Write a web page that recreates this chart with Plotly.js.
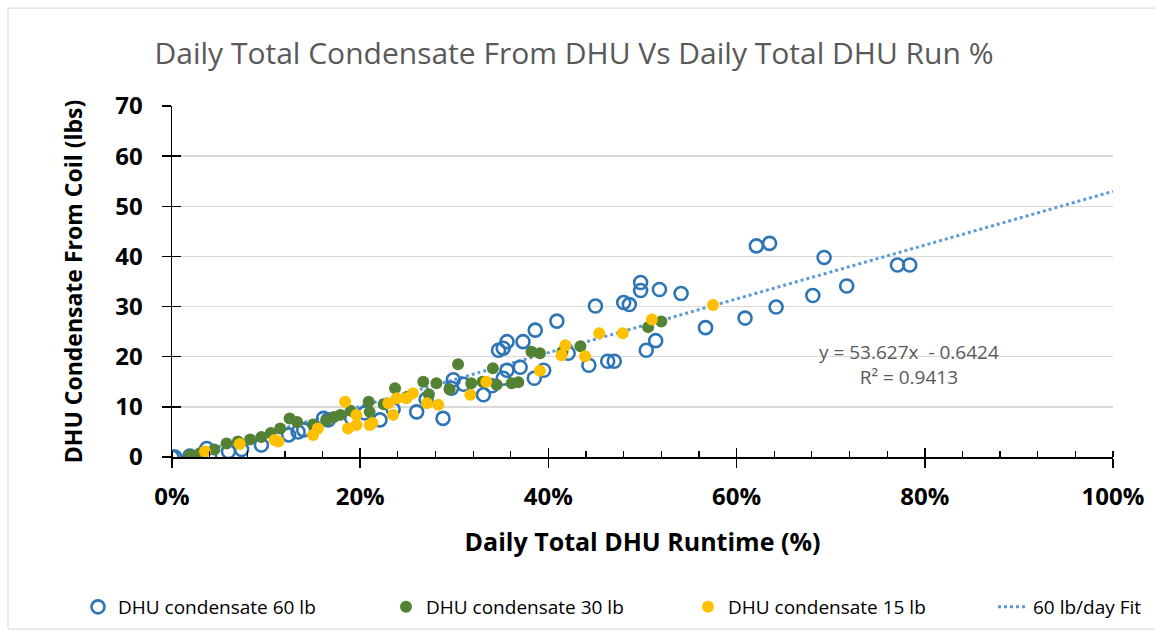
<!DOCTYPE html>
<html>
<head>
<meta charset="utf-8">
<script src="https://cdn.plot.ly/plotly-3.0.1.min.js"></script>
<style>html,body{margin:0;padding:0;background:#fff;}#chart{width:1155px;height:638px;}</style>
</head>
<body>
<div id="chart"></div>
<script>
// Daily runtime fraction (x) and condensate lbs (y)
const blueX = [0,0.003,0.019,0.037,0.040,0.060,0.074,0.095,0.124,0.134,0.140,0.161,0.166,0.191,0.205,0.221,0.235,0.260,0.270,0.288,0.297,0.299,0.310,0.331,0.340,0.347,0.352,0.352,0.356,0.356,0.370,0.373,0.385,0.386,0.395,0.409,0.421,0.443,0.450,0.463,0.470,0.480,0.486,0.498,0.498,0.504,0.514,0.518,0.541,0.567,0.609,0.621,0.635,0.642,0.681,0.693,0.717,0.771,0.784];
const blueY = [0,0,0.2,1.7,0.1,1.1,1.5,2.4,4.4,5.0,5.4,7.7,7.4,7.7,8.8,7.4,9.5,9.0,11.5,7.7,13.7,15.4,14.5,12.4,14.2,21.3,15.7,21.7,17.3,23.0,17.9,23.0,15.7,25.3,17.3,27.1,20.7,18.3,30.1,19.1,19.1,30.8,30.4,33.2,34.8,21.3,23.2,33.4,32.6,25.8,27.7,42.1,42.6,29.9,32.2,39.8,34.1,38.3,38.3];

const greenX = [0.019,0.030,0.045,0.058,0.070,0.083,0.095,0.105,0.115,0.125,0.133,0.150,0.164,0.172,0.179,0.190,0.209,0.210,0.225,0.237,0.250,0.267,0.273,0.281,0.295,0.304,0.318,0.330,0.341,0.345,0.361,0.368,0.382,0.391,0.415,0.434,0.506,0.520];
const greenY = [0.4,0.8,1.5,2.7,3.1,3.5,4.0,4.8,5.7,7.7,7.0,6.5,7.3,8.0,8.4,9.2,11.0,9.0,10.5,13.7,12.0,15.0,12.5,14.7,13.5,18.5,14.7,15.0,17.7,14.4,14.7,14.9,21.0,20.7,21.0,22.1,25.9,27.0];

const yellowX = [0.035,0.072,0.109,0.113,0.150,0.155,0.184,0.187,0.196,0.196,0.210,0.213,0.230,0.235,0.239,0.249,0.256,0.271,0.283,0.317,0.334,0.391,0.414,0.418,0.439,0.454,0.479,0.510,0.575];
const yellowY = [1.1,2.6,3.4,3.1,4.4,5.7,11.0,5.7,6.4,8.4,6.4,6.8,10.7,8.4,11.7,11.7,12.7,10.7,10.4,12.4,15.0,17.2,20.3,22.3,20.1,24.7,24.7,27.4,30.3];

// Linear fit shown on the chart: y = 53.627x - 0.6424
const fitX = [0.012, 1.0];
const fitY = [0.0, 52.98];

const seriesNames = ['DHU condensate 60 lb','DHU condensate 30 lb','DHU condensate 15 lb','60 lb/day Fit'];
const fitLabel = 'y = 53.627x  - 0.6424<br>R² = 0.9413';

const traces = [
  {x: fitX, y: fitY, mode:'lines', name: seriesNames[3], legend:'legend4', line:{color:'#5B9BD5', width:3, dash:'dot'}, hoverinfo:'skip'},
  {x: blueX, y: blueY, mode:'markers', name: seriesNames[0], legend:'legend',
   marker:{symbol:'circle-open', size:13, color:'#2E75B6', line:{width:2.6, color:'#2E75B6'}}},
  {x: greenX, y: greenY, mode:'markers', name: seriesNames[1], legend:'legend2',
   marker:{symbol:'circle', size:12, color:'#548235'}},
  {x: yellowX, y: yellowY, mode:'markers', name: seriesNames[2], legend:'legend3',
   marker:{symbol:'circle', size:12, color:'#FFC000'}}
];

const legFont = {size:19, color:'#000', family:'Open Sans, sans-serif'};
const legY = 1 - 607/638;
function leg(px){ return {orientation:'h', xref:'container', yref:'container', x:px/1155, xanchor:'left', y:legY, yanchor:'middle', font:legFont, bgcolor:'rgba(0,0,0,0)'}; }

const layout = {
  width:1155, height:638,
  margin:{l:172, r:42, t:106, b:181},
  paper_bgcolor:'#fff', plot_bgcolor:'#fff',
  font:{family:'Open Sans, sans-serif', color:'#000'},
  title:{text:'Daily Total Condensate From DHU Vs Daily Total DHU Run %', font:{size:30, color:'#595959'}, x:574/1155, xref:'container', xanchor:'center', y:1-53/638, yref:'container', yanchor:'middle'},
  xaxis:{range:[0,1], dtick:0.2, tickformat:'.0%', showgrid:false, zeroline:false,
    showline:true, linecolor:'#000', linewidth:1.5, ticks:'outside', ticklen:9, tickwidth:1.5, tickcolor:'#000',
    ticklabelstandoff:9,
    minor:{dtick:0.04, ticks:'inside', ticklen:6, tickwidth:1.2, tickcolor:'#000', showgrid:false},
    tickfont:{size:24, color:'#000', family:'Open Sans, sans-serif', weight:'bold'},
    title:{text:'<b>Daily Total DHU Runtime (%)</b>', font:{size:25, color:'#000'}, standoff:22}},
  xaxis2:{range:[0,1], dtick:0.2, overlaying:'x', showticklabels:false, showgrid:false, zeroline:false,
    ticks:'inside', ticklen:9, tickwidth:1.5, tickcolor:'#000', side:'bottom', anchor:'y'},
  yaxis:{range:[0,70], dtick:10, showgrid:true, gridcolor:'#D9D9D9', gridwidth:1.5, zeroline:false,
    showline:true, linecolor:'#000', linewidth:1.5, ticks:'outside', ticklen:9, tickwidth:1.5, tickcolor:'#000',
    ticklabelstandoff:14,
    tickfont:{size:24, color:'#000', family:'Open Sans, sans-serif', weight:'bold'},
    title:{text:'<b>DHU Condensate From Coil (lbs)</b>', font:{size:23, color:'#000'}, standoff:26}},
  yaxis2:{range:[0,70], dtick:10, overlaying:'y', showticklabels:false, showgrid:false, zeroline:false,
    ticks:'inside', ticklen:9, tickwidth:1.5, tickcolor:'#000', side:'left', anchor:'x'},
  legend: leg(78),
  legend2: leg(386),
  legend3: leg(688),
  legend4: leg(993),
  showlegend:true,
  annotations:[{x:0.783, y:18.35, xref:'x', yref:'y', text:fitLabel, showarrow:false,
    font:{size:19, color:'#595959'}, align:'center'}],
  shapes:[{type:'rect', xref:'paper', yref:'paper', x0:-0.1743, x1:1.2, y0:-0.49, y1:1.279,
    line:{color:'#D9D9D9', width:1}, layer:'below'}]
};

// dummy traces to activate overlay axes for the crossing ticks
traces.push({x:[0], y:[0], xaxis:'x2', yaxis:'y', mode:'markers', marker:{opacity:0}, showlegend:false, hoverinfo:'skip'});
traces.push({x:[0], y:[0], xaxis:'x', yaxis:'y2', mode:'markers', marker:{opacity:0}, showlegend:false, hoverinfo:'skip'});

Plotly.newPlot('chart', traces, layout, {displayModeBar:false, staticPlot:true});
</script>
</body>
</html>
